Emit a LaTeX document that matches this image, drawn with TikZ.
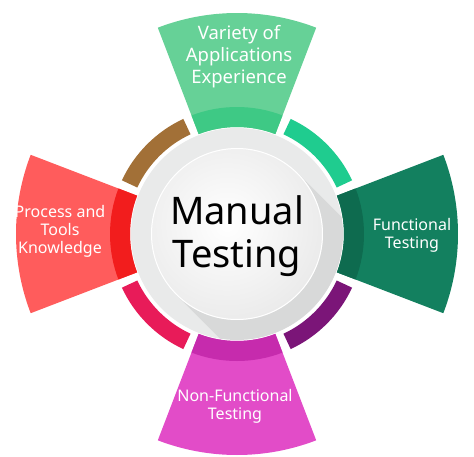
\documentclass[tikz,border=0pt]{standalone}
\usepackage{fontspec}
\setmainfont{Noto Sans}
\usepackage{tikz}
\usepackage{xcolor}
\definecolor{leaf}{HTML}{66D197}
\definecolor{leafdark}{HTML}{3EC985}
\definecolor{mint}{HTML}{1FCC8F}
\definecolor{pine}{HTML}{13805F}
\definecolor{pinedark}{HTML}{0E6B4F}
\definecolor{plum}{HTML}{7B1578}
\definecolor{orchid}{HTML}{E24CC8}
\definecolor{orchiddark}{HTML}{C62BAD}
\definecolor{crimson}{HTML}{E81B59}
\definecolor{coral}{HTML}{FF5C5C}
\definecolor{coraldark}{HTML}{F21D1D}
\definecolor{bronze}{HTML}{A27037}
\definecolor{disc}{HTML}{E9EAEA}

\begin{document}
\begin{tikzpicture}[x=1pt, y=1pt,
		petal text/.style={text=white, align=center,
			font=\fontsize{16}{18}\selectfont},
		core text/.style={text=black, align=center,
			font=\fontsize{38}{43}\selectfont}]
		\useasboundingbox (-237,-222) rectangle (237,234);
		% petals
		\begin{scope}[rotate=90]
			\fill [leaf] (-21:107pt) arc [start angle=-21, end angle=21, radius=107pt] -- (21:221pt) arc [start angle=21, end angle=-21, radius=221pt] -- cycle;
			\fill [leafdark] (-21:107pt) arc [start angle=-21, end angle=21, radius=107pt] -- (21:127pt) arc [start angle=21, end angle=-21, radius=127pt] -- cycle;
		\end{scope}
		%
		\begin{scope}[rotate=0]
			\fill [pine] (-21:107pt) arc [start angle=-21, end angle=21, radius=107pt] -- (21:221pt) arc [start angle=21, end angle=-21, radius=221pt] -- cycle;
			\fill [pinedark] (-21:107pt) arc [start angle=-21, end angle=21, radius=107pt] -- (21:127pt) arc [start angle=21, end angle=-21, radius=127pt] -- cycle;
		\end{scope}
		%
		\begin{scope}[rotate=270]
			\fill [orchid] (-21:107pt) arc [start angle=-21, end angle=21, radius=107pt] -- (21:221pt) arc [start angle=21, end angle=-21, radius=221pt] -- cycle;
			\fill [orchiddark] (-21:107pt) arc [start angle=-21, end angle=21, radius=107pt] -- (21:127pt) arc [start angle=21, end angle=-21, radius=127pt] -- cycle;
		\end{scope}
		%
		\begin{scope}[rotate=180]
			\fill [coral] (-21:107pt) arc [start angle=-21, end angle=21, radius=107pt] -- (21:221pt) arc [start angle=21, end angle=-21, radius=221pt] -- cycle;
			\fill [coraldark] (-21:107pt) arc [start angle=-21, end angle=21, radius=107pt] -- (21:127pt) arc [start angle=21, end angle=-21, radius=127pt] -- cycle;
		\end{scope}
		% ring pieces
		\fill [mint] (25:110pt) arc [start angle=25, end angle=65, radius=110pt] -- (65:127pt) arc [start angle=65, end angle=25, radius=127pt] -- cycle;
		\fill [bronze] (115:110pt) arc [start angle=115, end angle=155, radius=110pt] -- (155:127pt) arc [start angle=155, end angle=115, radius=127pt] -- cycle;
		\fill [crimson] (205:110pt) arc [start angle=205, end angle=245, radius=110pt] -- (245:127pt) arc [start angle=245, end angle=205, radius=127pt] -- cycle;
		\fill [plum] (295:110pt) arc [start angle=295, end angle=335, radius=110pt] -- (335:127pt) arc [start angle=335, end angle=295, radius=127pt] -- cycle;
		% grey disc and long shadow
		\fill [disc] (0,0) circle (106pt);
		\begin{scope}
			\clip (0,0) circle (106pt);
			\fill [black, opacity=0.07] (45:86pt) -- ++(-45:250pt) -- ++(-135:172pt) -- (-135:86pt) -- cycle;
		\end{scope}
		% centre ball
		\begin{scope}
			\clip (0,0) circle (86pt);
			\shade [inner color=white, outer color=gray!16] (-10,10) circle (100pt);
		\end{scope}
		\draw [white, line width=1pt] (0,0) circle (85.5pt);
		% texts
		\node [core text] (core) at (0,-2) {Manual\\Testing};
		\node [petal text, font=\fontsize{18.5}{22}\selectfont] (variety) at (2,177) {Variety of\\Applications\\Experience};
		\node [petal text] (functional) at (175,-1) {Functional\\Testing};
		\node [petal text] (process) at (-177,3) {Process and\\Tools\\Knowledge};
		\node [petal text] (nonfunctional) at (-2,-172) {Non-Functional\\Testing};
	\end{tikzpicture}
\end{document}
